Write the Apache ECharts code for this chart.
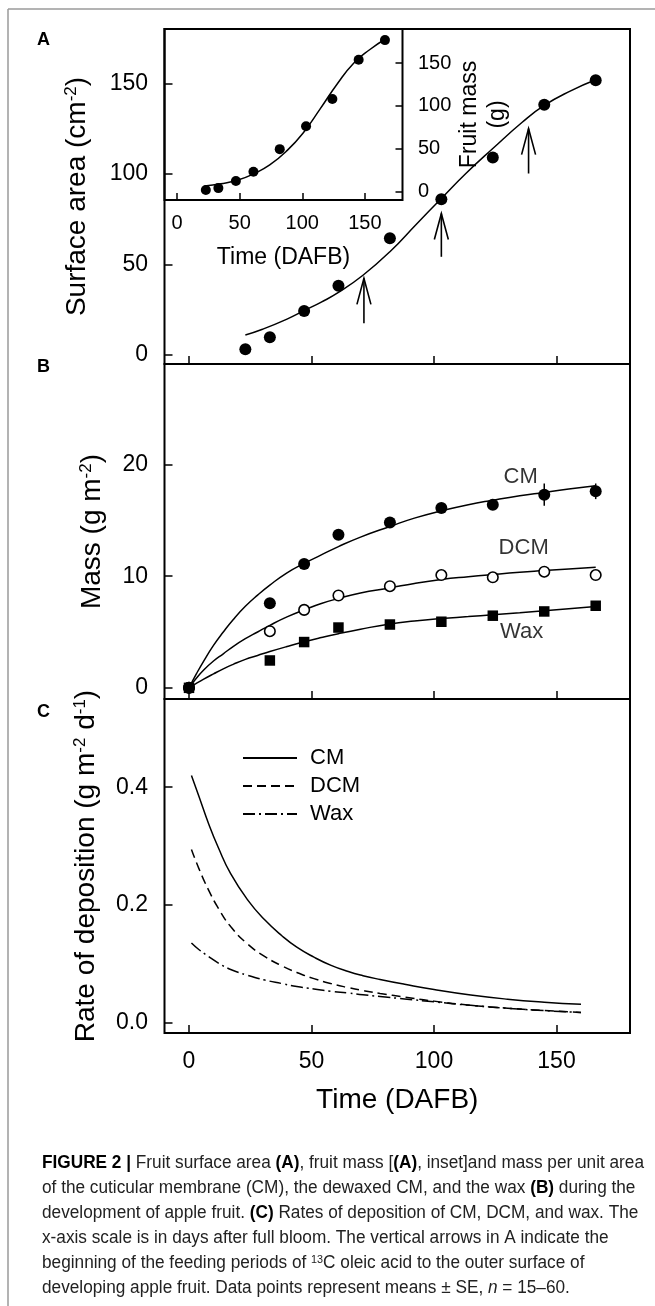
<!DOCTYPE html>
<html><head><meta charset="utf-8">
<script src="https://cdn.jsdelivr.net/npm/echarts@6/dist/echarts.min.js"></script>
<style>html,body{margin:0;padding:0;background:#fff}#c{width:655px;height:1306px}</style>
</head><body><div id="c"></div>
<script>
// ---------- DATA ----------
const TICKS_X = [0, 50, 100, 150];
const TICKS_A = [0, 50, 100, 150];
const TICKS_B = [0, 10, 20];
const TICKS_C = [0, 0.2, 0.4];
const TICKS_INSET_Y = [0, 50, 100, 150];

// Panel A: surface area
const DAYS_A = [23, 33, 47, 61, 82, 103, 124, 145, 166];
const AREA = [3.1, 9.8, 24.3, 38.2, 64.5, 86, 109, 138.2, 151.7];
const FIT_A_X = [23, 30, 40, 47, 54, 61, 71, 82, 93, 103, 113, 124, 136, 145, 156, 166];
const FIT_A_Y = [11, 14.2, 19.8, 24.5, 29.2, 34.5, 44, 57, 72.5, 86.4, 100.2, 114, 128.5, 137.8, 146, 152];
// Arrows (start of feeding periods)
const ARROW_X = [71.4, 103, 138.6];
const ARROW_FROM = [17.5, 54.2, 100.2];
const ARROW_TO = [42.3, 78.1, 125];

// Inset: fruit mass
const DAYS_INSET = [23, 33, 47, 61, 82, 103, 124, 145, 166];
const FRUIT_MASS = [1.8, 3.9, 12.3, 23, 49.5, 76.2, 108.2, 154, 177];
const FIT_IN_X = [22, 35, 48, 61, 74, 88, 101, 114, 128, 141, 154, 166];
const FIT_IN_Y = [6.5, 9, 13, 20.5, 31, 48, 69, 96, 126, 150, 166, 178];

// Panel B: mass per unit area
const DAYS_B = [0, 33, 47, 61, 82, 103, 124, 145, 166];
const CM = [0, 7.58, 11.1, 13.7, 14.8, 16.1, 16.4, 17.3, 17.6];
const DCM = [0, 5.07, 6.98, 8.27, 9.1, 10.1, 9.9, 10.4, 10.1];
const WAX = [0, 2.45, 4.1, 5.4, 5.67, 5.92, 6.46, 6.84, 7.35];
const CM_SE = [0, 0.3, 0.3, 0.3, 0.3, 0.3, 0.4, 1.0, 0.7];
const DCM_SE = [0, 0.2, 0.2, 0.2, 0.2, 0.2, 0.2, 0.5, 0.2];
const WAX_SE = [0, 0.2, 0.2, 0.2, 0.2, 0.2, 0.2, 0.2, 0.2];
const FIT_B_X = [0, 3, 6, 10, 14, 18, 23, 28, 33, 40, 47, 54, 61, 70, 82, 92, 103, 114, 124, 135, 145, 155, 166];
const CM_FIT = [0, 1.25, 2.4, 3.8, 5.0, 6.1, 7.3, 8.3, 9.2, 10.3, 11.15, 11.9, 12.65, 13.5, 14.45, 15.2, 15.85, 16.4, 16.8, 17.2, 17.5, 17.8, 18.1];
const DCM_FIT = [0, 0.85, 1.6, 2.4, 3.05, 3.7, 4.4, 5.0, 5.6, 6.35, 6.98, 7.55, 8.0, 8.5, 8.95, 9.35, 9.7, 9.95, 10.15, 10.35, 10.5, 10.65, 10.8];
const WAX_FIT = [0, 0.4, 0.78, 1.25, 1.7, 2.1, 2.55, 2.9, 3.25, 3.7, 4.12, 4.5, 4.85, 5.25, 5.72, 5.98, 6.2, 6.38, 6.55, 6.72, 6.9, 7.08, 7.28];
const LABEL_B_NAMES = ['CM', 'DCM', 'Wax'];
const LABEL_B_X = [135.4, 136.6, 135.8];
const LABEL_B_Y = [18.9, 12.5, 5.0];

// Panel C: rate of deposition
const RATE_X = [1, 4, 8, 12, 17, 24, 31, 38, 44, 51, 58, 65, 71, 78, 88, 100, 115, 130, 145, 160];
const CM_RATE = [0.42, 0.385, 0.338, 0.297, 0.253, 0.208, 0.174, 0.147, 0.128, 0.111, 0.097, 0.0865, 0.0795, 0.073, 0.0648, 0.0558, 0.0465, 0.0395, 0.0345, 0.031];
const DCM_RATE = [0.294, 0.262, 0.225, 0.194, 0.163, 0.133, 0.112, 0.096, 0.085, 0.0745, 0.066, 0.0592, 0.0542, 0.0492, 0.0432, 0.0362, 0.0292, 0.0242, 0.0202, 0.017];
const WAX_RATE = [0.135, 0.124, 0.112, 0.101, 0.090, 0.080, 0.072, 0.066, 0.061, 0.057, 0.053, 0.050, 0.047, 0.044, 0.040, 0.035, 0.029, 0.024, 0.020, 0.017];

// Caption
const CAPTION = [
  '{b|FIGURE 2 |} Fruit surface area {b|(A)}, fruit mass [{b|(A)}, inset]and mass per unit area',
  'of the cuticular membrane (CM), the dewaxed CM, and the wax {b|(B)} during the',
  'development of apple fruit. {b|(C)} Rates of deposition of CM, DCM, and wax. The',
  'x-axis scale is in days after full bloom. The vertical arrows in A indicate the',
  'beginning of the feeding periods of {sup|13}C oleic acid to the outer surface of',
  'developing apple fruit. Data points represent means \u00b1 SE, {i|n} = 15\u201360.'
];

// ---------- HELPERS ----------
const FONT = '"Liberation Sans", Arial, Helvetica, sans-serif';
const zip = (a, b) => a.map((v, i) => [v, b[i]]);
const errData = (x, y, se) => x.map((v, i) => [v, y[i] - se[i], y[i] + se[i]]);

const chart = echarts.init(document.getElementById('c'), null, {renderer: 'canvas'});

const AX_LINE = {show: false, onZero: false};
function xAxisFor(grid, showLabel) {
  return {
    gridIndex: grid, type: 'value', min: -10, max: 180,
    axisLine: AX_LINE, splitLine: {show: false},
    axisTick: {inside: true, length: 8, customValues: TICKS_X, lineStyle: {color: '#000', width: 1.5}},
    axisLabel: {show: showLabel, customValues: TICKS_X, fontSize: 23, color: '#000', margin: 17, fontFamily: FONT},
    name: showLabel ? 'Time (DAFB)' : '', nameLocation: 'middle', nameGap: 53,
    nameTextStyle: {fontSize: 28, color: '#000', fontFamily: FONT}
  };
}
const RICH = {
  n: {fontSize: 28, color: '#000', fontFamily: FONT, lineHeight: 28, verticalAlign: 'bottom'},
  s: {fontSize: 17, color: '#000', fontFamily: FONT, lineHeight: 18, verticalAlign: 'top', padding: [0, 0, 16, 0]}
};
function yAxisFor(grid, min, max, ticks, name, gap, fmt) {
  return {
    gridIndex: grid, type: 'value', min: min, max: max,
    axisLine: AX_LINE, splitLine: {show: false},
    axisTick: {inside: true, length: 8, customValues: ticks, lineStyle: {color: '#000', width: 1.5}},
    axisLabel: {customValues: ticks, fontSize: 23, color: '#000', margin: 16.5, fontFamily: FONT, formatter: fmt},
    name: name, nameLocation: 'middle', nameRotate: 90, nameGap: gap,
    nameTextStyle: {rich: RICH}
  };
}

function arrowItem(params, api) {
  const p0 = api.coord([api.value(0), api.value(1)]);
  const p1 = api.coord([api.value(0), api.value(2)]);
  return {
    type: 'group',
    children: [
      {type: 'line', shape: {x1: p0[0], y1: p0[1], x2: p1[0], y2: p1[1]}, style: {stroke: '#000', lineWidth: 1.6}},
      {type: 'polyline', shape: {points: [[p1[0] - 7, p1[1] + 26], [p1[0], p1[1]], [p1[0] + 7, p1[1] + 26]]},
        style: {stroke: '#000', lineWidth: 1.6, fill: null}}
    ]
  };
}
function errItem(params, api) {
  const p0 = api.coord([api.value(0), api.value(1)]);
  const p1 = api.coord([api.value(0), api.value(2)]);
  return {type: 'line', shape: {x1: p0[0], y1: p0[1], x2: p1[0], y2: p1[1]}, style: {stroke: '#000', lineWidth: 1.5}};
}
function fitLine(name, xi, yi, data, type) {
  return {
    name: name, type: 'line', xAxisIndex: xi, yAxisIndex: yi, data: data,
    smooth: 0.5, symbol: 'none', silent: true, z: 2,
    lineStyle: {color: '#000', width: 1.5, type: type || 'solid'},
    itemStyle: {color: 'rgba(0,0,0,0)', borderColor: 'rgba(0,0,0,0)'}
  };
}
const SOLID = {color: '#000', opacity: 1};

const option = {
  animation: false,
  backgroundColor: '#fff',
  textStyle: {fontFamily: FONT},
  grid: [
    {left: 164.5, top: 29, width: 465.5, height: 335, show: true, borderColor: '#000', borderWidth: 2, backgroundColor: 'transparent'},
    {left: 164.5, top: 364, width: 465.5, height: 335, show: true, borderColor: '#000', borderWidth: 2, backgroundColor: 'transparent'},
    {left: 164.5, top: 699, width: 465.5, height: 334, show: true, borderColor: '#000', borderWidth: 2, backgroundColor: 'transparent'},
    {left: 164.5, top: 29, width: 238, height: 171, show: true, borderColor: '#000', borderWidth: 2, backgroundColor: 'transparent'}
  ],
  xAxis: [
    xAxisFor(0, false), xAxisFor(1, false), xAxisFor(2, true),
    {
      gridIndex: 3, type: 'value', min: -10, max: 180,
      axisLine: AX_LINE, splitLine: {show: false},
      axisTick: {inside: true, length: 7, customValues: TICKS_X, lineStyle: {color: '#000', width: 1.5}},
      axisLabel: {customValues: TICKS_X, fontSize: 20, color: '#000', margin: 13, fontFamily: FONT},
      name: 'Time (DAFB)', nameLocation: 'middle', nameGap: 46.5,
      nameTextStyle: {fontSize: 23, color: '#000', fontFamily: FONT}
    }
  ],
  yAxis: [
    yAxisFor(0, -5, 180, TICKS_A, '{n|Surface area (cm}{s|-2}{n|)}', 73.5),
    yAxisFor(1, -1, 29, TICKS_B, '{n|Mass (g m}{s|-2}{n|)}', 58.5),
    yAxisFor(2, -0.018, 0.55, TICKS_C, '{n|Rate of deposition (g m}{s|-2}{n| d}{s|-1}{n|)}', 60.5, v => v.toFixed(1)),
    {
      gridIndex: 3, type: 'value', min: -10, max: 190, position: 'right',
      axisLine: AX_LINE, splitLine: {show: false},
      axisTick: {inside: true, length: 7, customValues: TICKS_INSET_Y, lineStyle: {color: '#000', width: 1.5}},
      axisLabel: {customValues: TICKS_INSET_Y, fontSize: 20, color: '#000', margin: 15.5, fontFamily: FONT},
      name: 'Fruit mass\n(g)', nameLocation: 'middle', nameRotate: 90, nameGap: 51.5,
      nameTextStyle: {fontSize: 23, lineHeight: 28, color: '#000', fontFamily: FONT}
    }
  ],
  legend: {
    data: ['CM', 'DCM', 'Wax'], orient: 'vertical', left: 242, top: 747, padding: 0,
    itemWidth: 54, itemHeight: 14, itemGap: 6, selectedMode: false,
    textStyle: {fontSize: 22, color: '#000', fontFamily: FONT, lineHeight: 22, padding: [0, 0, 0, 8]}
  },
  series: [
    // Panel A
    fitLine('fitA', 0, 0, zip(FIT_A_X, FIT_A_Y)),
    {name: 'area', type: 'scatter', xAxisIndex: 0, yAxisIndex: 0, data: zip(DAYS_A, AREA),
      symbol: 'circle', symbolSize: 12, itemStyle: SOLID, z: 3},
    {name: 'arrows', type: 'custom', xAxisIndex: 0, yAxisIndex: 0, renderItem: arrowItem,
      data: ARROW_X.map((x, i) => [x, ARROW_FROM[i], ARROW_TO[i]]), z: 3, silent: true},
    // Inset
    fitLine('fitInset', 3, 3, zip(FIT_IN_X, FIT_IN_Y)),
    {name: 'mass', type: 'scatter', xAxisIndex: 3, yAxisIndex: 3, data: zip(DAYS_INSET, FRUIT_MASS),
      symbol: 'circle', symbolSize: 10, itemStyle: SOLID, z: 3},
    // Panel B
    fitLine('fitCM', 1, 1, zip(FIT_B_X, CM_FIT)),
    fitLine('fitDCM', 1, 1, zip(FIT_B_X, DCM_FIT)),
    fitLine('fitWax', 1, 1, zip(FIT_B_X, WAX_FIT)),
    {name: 'errCM', type: 'custom', xAxisIndex: 1, yAxisIndex: 1, renderItem: errItem, data: errData(DAYS_B, CM, CM_SE), z: 3, silent: true},
    {name: 'errDCM', type: 'custom', xAxisIndex: 1, yAxisIndex: 1, renderItem: errItem, data: errData(DAYS_B, DCM, DCM_SE), z: 3, silent: true},
    {name: 'errWax', type: 'custom', xAxisIndex: 1, yAxisIndex: 1, renderItem: errItem, data: errData(DAYS_B, WAX, WAX_SE), z: 3, silent: true},
    {name: 'CM pts', type: 'scatter', xAxisIndex: 1, yAxisIndex: 1, data: zip(DAYS_B, CM),
      symbol: 'circle', symbolSize: 12, itemStyle: SOLID, z: 4},
    {name: 'DCM pts', type: 'scatter', xAxisIndex: 1, yAxisIndex: 1, data: zip(DAYS_B, DCM),
      symbol: 'circle', symbolSize: 10.5, itemStyle: {color: '#fff', borderColor: '#000', borderWidth: 1.6, opacity: 1}, z: 4},
    {name: 'Wax pts', type: 'scatter', xAxisIndex: 1, yAxisIndex: 1, data: zip(DAYS_B, WAX),
      symbol: 'rect', symbolSize: 10.5, itemStyle: SOLID, z: 5},
    {name: 'labelsB', type: 'scatter', xAxisIndex: 1, yAxisIndex: 1, silent: true,
      data: LABEL_B_NAMES.map((n, i) => ({name: n, value: [LABEL_B_X[i], LABEL_B_Y[i]]})),
      symbolSize: 1, itemStyle: {color: 'rgba(0,0,0,0)'},
      label: {show: true, position: 'inside', formatter: p => p.name, fontSize: 22, color: '#000', fontFamily: FONT}},
    // Panel C
    fitLine('CM', 2, 2, zip(RATE_X, CM_RATE), 'solid'),
    fitLine('DCM', 2, 2, zip(RATE_X, DCM_RATE), [9, 5]),
    fitLine('Wax', 2, 2, zip(RATE_X, WAX_RATE), [12, 4, 2, 4])
  ],
  graphic: []
};

// Frame and panel letters
option.graphic.push(
  {type: 'line', shape: {x1: 8, y1: 9, x2: 655, y2: 9}, style: {stroke: '#9a9a9a', lineWidth: 1.5}},
  {type: 'line', shape: {x1: 8, y1: 9, x2: 8, y2: 1306}, style: {stroke: '#9a9a9a', lineWidth: 1.5}},
  {type: 'text', x: 37, y: 40, style: {text: 'A', font: 'bold 18px ' + FONT, fill: '#000', textVerticalAlign: 'middle'}},
  {type: 'text', x: 37, y: 367, style: {text: 'B', font: 'bold 18px ' + FONT, fill: '#000', textVerticalAlign: 'middle'}},
  {type: 'text', x: 37, y: 712.5, style: {text: 'C', font: 'bold 18px ' + FONT, fill: '#000', textVerticalAlign: 'middle'}}
);

// Caption (measured & horizontally condensed to the reference width)
const CAP_SIZE = 17.5;
const mctx = document.createElement('canvas').getContext('2d');
function measureRich(str) {
  let w = 0; const re = /\{(\w+)\|([^}]*)\}|([^{]+)/g; let m;
  while ((m = re.exec(str))) {
    if (m[3] !== undefined) { mctx.font = CAP_SIZE + 'px ' + FONT; w += mctx.measureText(m[3]).width; }
    else {
      const st = m[1]; const sz = st === 'sup' ? 11 : CAP_SIZE;
      mctx.font = (st === 'b' ? 'bold ' : '') + (st === 'i' ? 'italic ' : '') + sz + 'px ' + FONT;
      w += mctx.measureText(m[2]).width;
    }
  }
  return w;
}
const capScale = 602 / measureRich(CAPTION[0]);
const CAP_RICH = {
  b: {fontWeight: 'bold', fill: '#000', fontSize: CAP_SIZE, fontFamily: FONT},
  i: {fontStyle: 'italic', fill: '#222', fontSize: CAP_SIZE, fontFamily: FONT},
  sup: {fontSize: 11, fill: '#222', fontFamily: FONT, verticalAlign: 'top', lineHeight: 11, padding: [0, 0, 9, 0]}
};
CAPTION.forEach((line, i) => {
  option.graphic.push({
    type: 'text', x: 42, y: 1163 + i * 25, scaleX: capScale, originX: 0, originY: 0,
    style: {text: line, fontSize: CAP_SIZE, fontFamily: FONT, fill: '#222', rich: CAP_RICH, textVerticalAlign: 'middle'}
  });
});

chart.setOption(option);
</script></body></html>
